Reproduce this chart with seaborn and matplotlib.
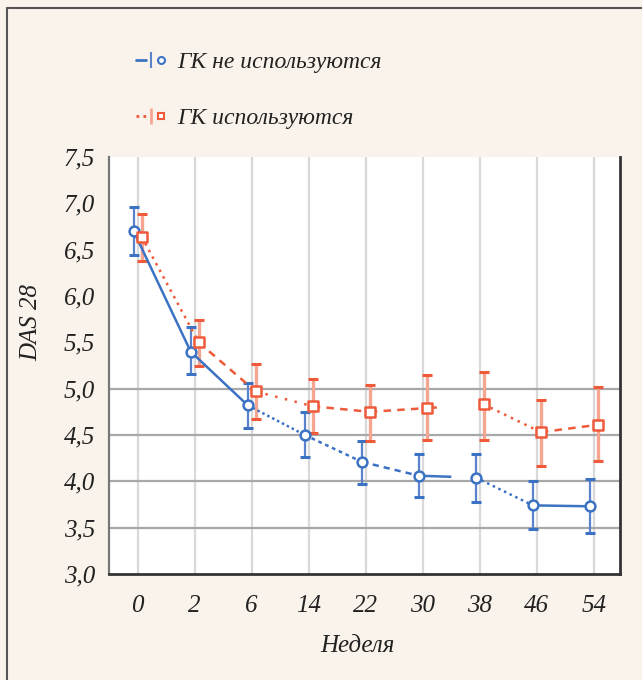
import numpy as np
import pandas as pd
import seaborn as sns
import matplotlib
matplotlib.use("Agg")
import matplotlib.pyplot as plt
from matplotlib.lines import Line2D
from matplotlib.legend_handler import HandlerTuple

# ---- data ----
weeks = ["0", "2", "6", "14", "22", "30", "38", "46", "54"]
no_gc_mean = [6.70, 5.40, 4.82, 4.50, 4.21, 4.06, 4.04, 3.74, 3.73]
no_gc_low = [6.44, 5.16, 4.58, 4.26, 3.97, 3.83, 3.78, 3.48, 3.44]
no_gc_high = [6.96, 5.67, 5.06, 4.75, 4.44, 4.29, 4.29, 4.00, 4.02]
gc_mean = [6.64, 5.50, 4.97, 4.81, 4.75, 4.79, 4.83, 4.53, 4.61]
gc_low = [6.38, 5.25, 4.67, 4.52, 4.43, 4.45, 4.45, 4.16, 4.22]
gc_high = [6.89, 5.74, 5.27, 5.10, 5.04, 5.15, 5.18, 4.88, 5.02]
label_no = "ГК не используются"
label_gc = "ГК используются"
yticks = [3.0, 3.5, 4.0, 4.5, 5.0, 5.5, 6.0, 6.5, 7.0, 7.5]
hgrid = [3.5, 4.0, 4.5, 5.0]

# ---- style ----
sns.set_theme(style="white")
plt.rcParams["font.family"] = ["Liberation Serif", "DejaVu Serif"]
plt.rcParams["font.style"] = "italic"

BG = "#faf3eb"
BLUE = "#3c72c4"
BLUE_ERR = "#5b82cc"
RED = "#ee5a3a"
RED_ERR = "#f5a690"
FS = 18
TXT = "#222222"
FONT = dict(family="Liberation Serif", style="italic")

fig = plt.figure(figsize=(6.42, 6.80), dpi=100, facecolor=BG)
ax = fig.add_axes([0.170, 0.156, 0.796, 0.613])
ax.set_facecolor("white")

n = len(weeks)
pos = np.arange(n)
off = 0.07

df = pd.DataFrame({
    "pos": np.concatenate([pos - off, pos + off]),
    "val": no_gc_mean + gc_mean,
    "grp": [label_no] * n + [label_gc] * n,
})

# grid
for i in pos:
    ax.axvline(i, color="#d9d9d9", lw=1.6, zorder=0)
for g in hgrid:
    ax.axhline(g, color="#a8a8a8", lw=1.6, zorder=0)

# error bars
ax.vlines(pos - off, no_gc_low, no_gc_high, color=BLUE_ERR, lw=1.6, zorder=2)
ax.hlines(no_gc_low, pos - off - 0.09, pos - off + 0.09, color=BLUE, lw=2.2, zorder=2)
ax.hlines(no_gc_high, pos - off - 0.09, pos - off + 0.09, color=BLUE, lw=2.2, zorder=2)
ax.vlines(pos + off, gc_low, gc_high, color=RED_ERR, lw=2.4, zorder=2)
ax.hlines(gc_low, pos + off - 0.09, pos + off + 0.09, color=RED, lw=2.2, zorder=2)
ax.hlines(gc_high, pos + off - 0.09, pos + off + 0.09, color=RED, lw=2.2, zorder=2)

# connecting segments (styles mimic the original scan)
blue_styles = ["-", "-", (0, (1, 1.2)), (0, (1.5, 1.5)), (0, (2.5, 2)),
               (0, (13, 40)), (0, (1, 1.5)), "-"]
red_styles = [(0, (1, 2)), (0, (3, 2.5)), (0, (1, 3)), (0, (3, 2.5)),
              (0, (3, 2.5)), (0, (4, 40)), (0, (1, 2)), (0, (3, 2.5))]
for k in range(n - 1):
    ax.plot([pos[k] - off, pos[k + 1] - off], [no_gc_mean[k], no_gc_mean[k + 1]],
            color=BLUE, lw=1.8, ls=blue_styles[k], zorder=3)
    ax.plot([pos[k] + off, pos[k + 1] + off], [gc_mean[k], gc_mean[k + 1]],
            color=RED, lw=1.8, ls=red_styles[k], zorder=3)

# markers
sns.scatterplot(data=df[df.grp == label_no], x="pos", y="val", marker="o",
                s=50, facecolor="white", edgecolor=BLUE, linewidth=1.8,
                ax=ax, zorder=4, legend=False)
sns.scatterplot(data=df[df.grp == label_gc], x="pos", y="val", marker="s",
                s=50, facecolor="white", edgecolor=RED, linewidth=1.8,
                ax=ax, zorder=4, legend=False)

ax.set_xlim(-0.5, n - 0.5 - 0.04)
ax.set_ylim(3.0, 7.5)
ax.set_xticks(pos)
ax.set_xticklabels(weeks, fontdict=FONT)
ax.set_yticks(yticks)
ax.set_yticklabels([f"{v:.1f}".replace(".", ",") for v in yticks], fontdict=FONT)
ax.tick_params(axis="both", length=0, labelsize=FS, colors=TXT)
ax.tick_params(axis="x", pad=15)
ax.tick_params(axis="y", pad=10)
for lab in ax.get_xticklabels() + ax.get_yticklabels():
    lab.set_fontstyle("italic")
    lab.set_fontfamily("Liberation Serif")

ax.set_xlabel("Неделя", fontsize=FS, color=TXT, **FONT)
ax.set_ylabel("DAS 28", fontsize=FS, color=TXT, **FONT)
ax.xaxis.set_label_coords(0.485, -0.147)
ax.yaxis.set_label_coords(-0.131, 0.604)

for side in ["bottom", "right"]:
    ax.spines[side].set_visible(True)
    ax.spines[side].set_color("#333333")
    ax.spines[side].set_linewidth(2.0)
ax.spines["left"].set_visible(True)
ax.spines["left"].set_color("#777777")
ax.spines["left"].set_linewidth(1.6)
ax.spines["top"].set_visible(False)

# legend
h1 = (Line2D([], [], color=BLUE, lw=2),
      Line2D([], [], color=BLUE_ERR, marker="|", ms=12, lw=0, mew=1.5),
      Line2D([], [], color=BLUE, marker="o", ms=5, mfc="white", lw=0, mew=1.5))
h2 = (Line2D([], [], color=RED, lw=2, ls=(0, (1, 1.5))),
      Line2D([], [], color=RED_ERR, marker="|", ms=12, lw=0, mew=2),
      Line2D([], [], color=RED, marker="s", ms=5, mfc="white", lw=0, mew=1.5))
fig.legend([h1, h2], [label_no, label_gc], handler_map={tuple: HandlerTuple(ndivide=None, pad=0)},
           loc="upper left", bbox_to_anchor=(0.178, 0.955), frameon=False,
           prop={"family": "Liberation Serif", "style": "italic", "size": FS - 1},
           labelspacing=1.45, handlelength=1.3, handletextpad=0.45, labelcolor=TXT)

# outer frame (left and top)
fig.add_artist(Line2D([0.011, 0.011], [0, 0.988], color="#555555", lw=1.5, transform=fig.transFigure))
fig.add_artist(Line2D([0.011, 1.0], [0.988, 0.988], color="#555555", lw=1.5, transform=fig.transFigure))

fig.savefig("out.png", dpi=100, facecolor=BG)
